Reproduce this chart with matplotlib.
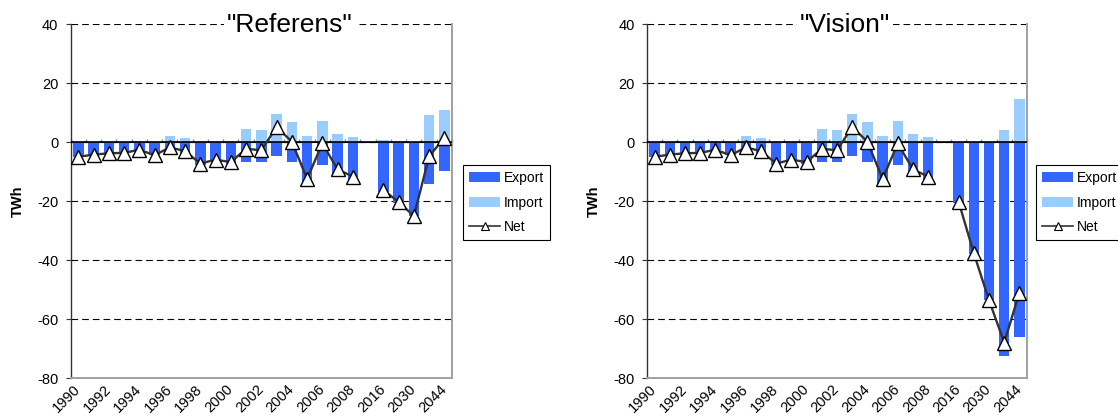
import numpy as np
import matplotlib
matplotlib.use("Agg")
import matplotlib.pyplot as plt
from matplotlib.lines import Line2D
from matplotlib.patches import Patch
from matplotlib.transforms import ScaledTranslation

plt.rcParams['font.family'] = ['Liberation Sans', 'DejaVu Sans']
plt.rcParams['axes.unicode_minus'] = False

# ---------------- data ----------------
categories = [str(y) for y in range(1990, 2009)] + ['', '2016', '2023', '2030', '2037', '2044']

hist_export = [-4.9, -4.2, -3.7, -3.6, -2.6, -4.4, -4.0, -4.5, -7.6, -6.4,
               -7.2, -6.7, -6.8, -4.5, -6.8, -14.5, -7.7, -11.8, -13.3]
hist_import = [0.0, 0.0, 0.0, 0.0, 0.1, 0.0, 2.3, 1.5, 0.3, 0.5,
               0.5, 4.5, 4.2, 9.6, 6.9, 2.0, 7.2, 2.7, 1.7]
hist_net = [-4.9, -4.2, -3.7, -3.6, -2.5, -4.4, -1.7, -3.0, -7.2, -5.9,
            -6.7, -2.2, -2.7, 5.2, 0.2, -12.4, -0.4, -9.2, -11.6]

ref_export = [np.nan, -17.0, -20.6, -25.0, -14.3, -9.6]
ref_import = [np.nan, 0.8, 0.3, 0.0, 9.3, 11.0]
ref_net = [np.nan, -16.2, -20.2, -25.0, -4.8, 1.6]

vis_export = [np.nan, -20.5, -37.8, -53.6, -72.4, -66.0]
vis_import = [np.nan, 0.0, 0.0, 0.0, 4.2, 14.7]
vis_net = [np.nan, -20.1, -37.6, -53.5, -67.9, -51.0]

titles = ['"Referens"', '"Vision"']
legend_labels = ['Export', 'Import', 'Net']
y_ticks = [-80, -60, -40, -20, 0, 20, 40]

EXPORT_C = '#3366FF'
IMPORT_C = '#99CCFF'

W, H = 1118, 419
fig = plt.figure(figsize=(W / 100, H / 100), dpi=100)

panels = [
    dict(left=70.7, right=452.0, title=titles[0], title_x=290,
         exp=hist_export + ref_export, imp=hist_import + ref_import,
         net=hist_net + ref_net, leg_x=463),
    dict(left=647.0, right=1027.0, title=titles[1], title_x=845,
         exp=hist_export + vis_export, imp=hist_import + vis_import,
         net=hist_net + vis_net, leg_x=1036),
]

top_px, bot_px = 24.3, 378.3
idx = np.arange(len(categories))

for p in panels:
    ax = fig.add_axes([p['left'] / W, 1 - bot_px / H,
                       (p['right'] - p['left']) / W, (bot_px - top_px) / H])
    ax.set_xlim(-0.5, len(categories) - 0.5)
    ax.set_ylim(-80, 40)

    ax.bar(idx, p['exp'], width=0.68, color=EXPORT_C, zorder=2)
    ax.bar(idx, p['imp'], width=0.68, color=IMPORT_C, zorder=2)
    ax.axhline(0, color='black', lw=1.2, zorder=3)
    ax.plot(idx, p['net'], color='#333333', lw=1.7, marker='^', ms=10.5,
            mfc='white', mec='black', mew=1.0, zorder=4)

    # grid
    ax.set_yticks(y_ticks)
    ax.yaxis.grid(True, color='black', lw=0.8, linestyle=(0, (6, 3.6)), zorder=1)
    ax.set_axisbelow(True)

    # spines
    ax.spines['top'].set_visible(False)
    ax.spines['left'].set_color('#333333')
    ax.spines['left'].set_linewidth(1.0)
    for s in ('right', 'bottom'):
        ax.spines[s].set_color('#a0a0a0')
        ax.spines[s].set_linewidth(1.4)

    ax.tick_params(axis='y', direction='out', length=3.4, width=0.8,
                   color='#333333', labelsize=10.5, pad=5.5)
    ax.set_xticks(idx[::2])
    ax.set_xticklabels(categories[::2], rotation=45, ha='right',
                       rotation_mode='anchor', fontsize=10.5)
    ax.tick_params(axis='x', length=0, pad=3)
    off = ScaledTranslation(-5 / 100, 0, fig.dpi_scale_trans)
    for lab in ax.get_xticklabels():
        lab.set_transform(lab.get_transform() + off)
    ax.set_ylabel('TWh', fontsize=10.5, fontweight='bold', labelpad=9)

    # category boundary ticks on the zero line
    loc0 = (0 - (-80)) / 120.0
    sec = ax.secondary_xaxis(loc0)
    sec.set_xticks(np.arange(len(categories) + 1) - 0.5)
    sec.set_xticklabels([])
    sec.tick_params(direction='out', length=2.5, width=1.0, color='#888888')
    sec.spines['bottom'].set_visible(False)

    fig.text(p['title_x'] / W, 1 - 25 / H, p['title'], ha='center', va='center',
             fontsize=19, bbox=dict(facecolor='white', edgecolor='none', pad=2))

    handles = [Patch(facecolor=EXPORT_C), Patch(facecolor=IMPORT_C),
               Line2D([], [], color='#333333', lw=1.2, marker='^', ms=6,
                      mfc='white', mec='black', mew=0.8)]
    leg = ax.legend(handles, legend_labels, loc='upper left',
                    bbox_to_anchor=(p['leg_x'] / W, 1 - 165 / H),
                    bbox_transform=fig.transFigure, fontsize=10,
                    frameon=True, fancybox=False, edgecolor='black',
                    framealpha=1, borderaxespad=0, borderpad=0.45,
                    handlelength=2.2, handleheight=0.75,
                    labelspacing=0.75, handletextpad=0.3)
    leg.get_frame().set_linewidth(0.8)

fig.savefig('out.png', dpi=100)
